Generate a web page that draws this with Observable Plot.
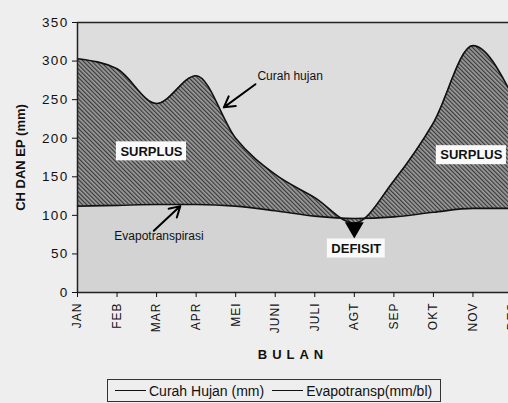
<!DOCTYPE html>
<html><head><meta charset="utf-8">
<script src="https://cdn.jsdelivr.net/npm/d3@7"></script>
<script src="https://cdn.jsdelivr.net/npm/@observablehq/plot@0.6"></script>
<style>
html,body{margin:0;padding:0;background:#eeeeee;width:508px;height:403px;overflow:hidden;font-family:Arial,"Liberation Sans",sans-serif;}
#chart{position:absolute;left:0;top:0;}
#chart svg{overflow:hidden;}
g[aria-label="y-axis tick label"] text{font-size:13.5px;letter-spacing:1.3px;fill:#111;}
g[aria-label="x-axis tick label"] text{font-size:12px;letter-spacing:1px;fill:#111;}
g[aria-label="y-axis label"] text{font-size:13px;font-weight:bold;fill:#111;}
g[aria-label="x-axis label"] text{font-size:13px;font-weight:bold;letter-spacing:5px;fill:#111;}
.legend{position:absolute;left:107px;top:379px;width:334px;height:23px;border:1px solid #333;box-sizing:border-box;display:flex;align-items:center;font-size:14px;color:#111;padding-left:7px;white-space:nowrap;}
.legend .ln{display:inline-block;width:31px;border-top:1.3px solid #111;margin-right:3px;}
.legend .item{display:flex;align-items:center;margin-right:8px;}
</style>
</head><body>
<svg width="0" height="0" style="position:absolute">
  <defs>
    <pattern id="hatch" patternUnits="userSpaceOnUse" width="3" height="3" patternTransform="rotate(-45)">
      <rect width="3" height="3" fill="#9c9c9c"/>
      <line x1="0.6" y1="0" x2="0.6" y2="3" stroke="#383838" stroke-width="1.2"/>
    </pattern>
  </defs>
</svg>
<div id="chart"></div>
<div class="legend">
  <span class="item"><span class="ln"></span>Curah Hujan (mm)</span>
  <span class="item"><span class="ln"></span>Evapotransp(mm/bl)</span>
</div>
<script>
const months = ["JAN","FEB","MAR","APR","MEI","JUNI","JULI","AGT","SEP","OKT","NOV","DES"];
const curahHujan = [303, 290, 245, 281, 200, 153, 123, 90, 145, 220, 320, 255];
const evapotranspirasi = [112, 113, 114, 114, 112, 106, 99, 96, 98, 104, 109, 109];
const yTicks = [0, 50, 100, 150, 200, 250, 300, 350];

const labelTexts = ["SURPLUS", "SURPLUS", "DEFISIT"];
const labelX = [1.87, 9.96, 7.05];
const labelY = [183, 178, 57];

const noteTexts = ["Curah hujan", "Evapotranspirasi"];
const noteX = [4.55, 0.93];
const noteY = [281, 73];
const arrowX1 = [4.5, 1.93];
const arrowY1 = [270, 80];
const arrowX2 = [3.7, 2.6];
const arrowY2 = [240, 112];

const data = months.map((m, i) => ({i, month: m, rain: curahHujan[i], et: evapotranspirasi[i]}));
const labels = labelTexts.map((t, k) => ({text: t, x: labelX[k], y: labelY[k]}));
const notes = noteTexts.map((t, k) => ({text: t, x: noteX[k], y: noteY[k]}));
const arrows = arrowX1.map((x, k) => ({x1: x, y1: arrowY1[k], x2: arrowX2[k], y2: arrowY2[k]}));
const deficit = [{x: 7.0, y: 84}];

function labelBoxes(items) {
  return (index, scales) => {
    const g = d3.create("svg:g");
    const ctx = document.createElement("canvas").getContext("2d");
    ctx.font = "bold 13px Arial, 'Liberation Sans', sans-serif";
    for (const d of items) {
      const w = ctx.measureText(d.text).width + 8;
      const h = 19;
      g.append("rect")
        .attr("x", scales.x(d.x) - w / 2)
        .attr("y", scales.y(d.y) - h / 2)
        .attr("width", w).attr("height", h)
        .attr("fill", "#fafafa");
    }
    return g.node();
  };
}

const curve = "monotone-x";
const chart = Plot.plot({
  width: 508, height: 366,
  marginLeft: 77, marginRight: 0, marginTop: 22, marginBottom: 74,
  style: {background: "transparent", fontFamily: "Arial, 'Liberation Sans', sans-serif", color: "#111", overflow: "hidden"},
  x: {type: "linear", domain: [0, 11], range: [77, 512]},
  y: {domain: [0, 350]},
  marks: [
    Plot.frame({fill: "#dddddd", stroke: "none"}),
    Plot.areaY(data, {x: "i", y1: 0, y2: "et", curve, fill: "#d3d3d3"}),
    Plot.areaY(data, {x: "i", y1: "et", y2: "rain", curve, fill: "url(#hatch)"}),
    Plot.line(data, {x: "i", y: "et", curve, stroke: "#111", strokeWidth: 1.6}),
    Plot.line(data, {x: "i", y: "rain", curve, stroke: "#111", strokeWidth: 1.6}),
    Plot.ruleY([350], {stroke: "#222", strokeWidth: 1.5}),
    Plot.ruleY([0], {stroke: "#222", strokeWidth: 1.5}),
    Plot.ruleX([0], {stroke: "#222", strokeWidth: 1.5}),
    Plot.axisY({ticks: yTicks, tickSize: 5, tickPadding: 4, label: "CH DAN EP (mm)", labelAnchor: "center", labelArrow: "none", labelOffset: 62}),
    Plot.axisX({ticks: d3.range(12), tickFormat: i => months[i], tickRotate: -90, tickSize: 5, tickPadding: 5, label: "BULAN", labelAnchor: "center", labelArrow: "none", labelOffset: 66}),
    Plot.dot(deficit, {x: "x", y: "y", symbol: "triangle", rotate: 180, r: 7, fill: "#000", stroke: "none"}),
    Plot.arrow(arrows, {x1: "x1", y1: "y1", x2: "x2", y2: "y2", stroke: "#000", strokeWidth: 2, headLength: 9}),
    Plot.text(notes, {x: "x", y: "y", text: "text", textAnchor: "start", fontSize: 12, fill: "#111"}),
    labelBoxes(labels),
    Plot.text(labels, {x: "x", y: "y", text: "text", fontSize: 13, fontWeight: "bold", fill: "#111"})
  ]
});
document.getElementById("chart").appendChild(chart);
</script>
</body></html>
